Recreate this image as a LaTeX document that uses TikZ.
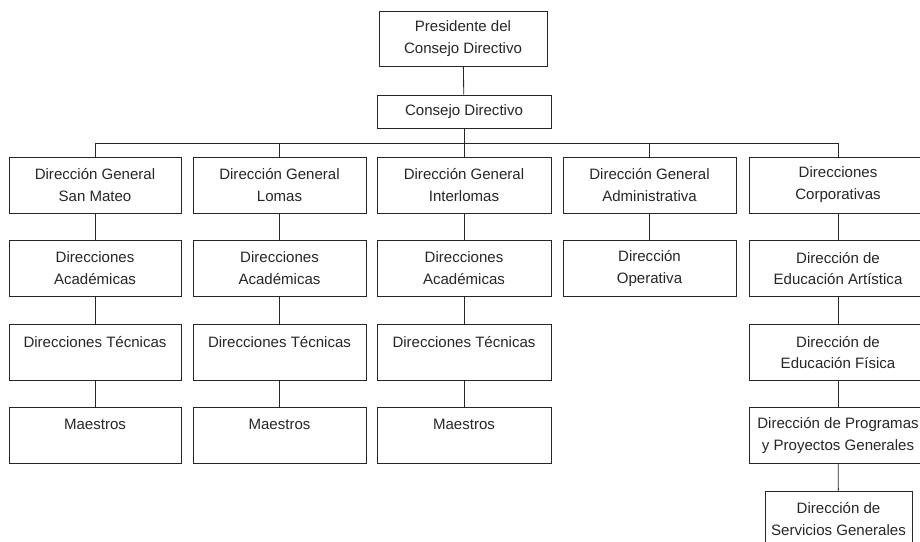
\documentclass[tikz,border=0pt]{standalone}
\usepackage{fontspec}
\setmainfont{Liberation Sans}

\tikzset{
  caja/.style={draw=black!85, line width=0.6pt, minimum width=4.3cm, minimum height=1.4cm,
    align=center, inner sep=0pt, text=black!85, font=\fontsize{10.7}{15.6}\selectfont},
  linea/.style={draw=black!85, line width=0.6pt}
}

\begin{document}
\begin{tikzpicture}[x=0.025cm, y=-0.025cm]
            % Marco (recortado como el original)
            \clip (0,0) rectangle (920,541);

            % Presidencia
            \node[caja, minimum width=4.2cm, minimum height=1.375cm] (pres) at (463,38.5) {Presidente del\\Consejo Directivo};
            \node[caja, minimum width=4.35cm, minimum height=0.825cm] (consejo) at (464,111.5) {Consejo Directivo};

            % Direcciones generales
            \node[caja] (dgsm) at (95,185) {Dirección General\\San Mateo};
            \node[caja, minimum width=4.325cm] (dglo) at (279.5,185) {Dirección General\\Lomas};
            \node[caja, minimum width=4.35cm] (dgin) at (464,185) {Dirección General\\Interlomas};
            \node[caja, minimum width=4.325cm] (dgad) at (649.5,185) {Dirección General\\Administrativa};
            \node[caja, minimum width=4.45cm] (dcor) at (838,185) {Direcciones\\Corporativas};

            % San Mateo
            \node[caja] (acsm) at (95,268.5) {Direcciones\\Académicas};
            \node[caja] (tesm) at (95,352.5) {Direcciones Técnicas\\\phantom{A}};
            \node[caja] (masm) at (95,435.5) {Maestros\\\phantom{A}};

            % Lomas
            \node[caja, minimum width=4.325cm] (aclo) at (279.5,268.5) {Direcciones\\Académicas};
            \node[caja, minimum width=4.325cm] (telo) at (279.5,352.5) {Direcciones Técnicas\\\phantom{A}};
            \node[caja, minimum width=4.325cm] (malo) at (279.5,435.5) {Maestros\\\phantom{A}};

            % Interlomas
            \node[caja, minimum width=4.35cm] (acin) at (464,268.5) {Direcciones\\Académicas};
            \node[caja, minimum width=4.35cm] (tein) at (464,352.5) {Direcciones Técnicas\\\phantom{A}};
            \node[caja, minimum width=4.35cm] (main) at (464,435.5) {Maestros\\\phantom{A}};

            % Administrativa
            \node[caja, minimum width=4.325cm] (oper) at (649.5,268.5) {Dirección\\Operativa};

            % Corporativas
            \node[caja, minimum width=4.45cm] (arte) at (838,268.5) {Dirección de\\Educación Artística};
            \node[caja, minimum width=4.45cm] (fisi) at (838,352.5) {Dirección de\\Educación Física};
            \node[caja, minimum width=4.45cm] (prog) at (838,435.5) {Dirección de Programas\\y Proyectos Generales};
            \node[caja, minimum width=3.675cm] (serv) at (838.5,519) {Dirección de\\Servicios Generales};

            % Lineas
            \coordinate (bus) at (464,143);
            \draw[linea] (pres) -- (consejo);
            \draw[linea] (consejo) -- (bus);
            \foreach \n in {dgsm,dglo,dgin,dgad,dcor}
              \draw[linea] (\n.north) |- (bus);
            \foreach \a/\b in {dgsm/acsm,acsm/tesm,tesm/masm,dglo/aclo,aclo/telo,telo/malo,
                               dgin/acin,acin/tein,tein/main,dgad/oper,
                               dcor/arte,arte/fisi,fisi/prog,prog/serv}
              \draw[linea] (\a) -- (\b);
        \end{tikzpicture}
\end{document}
